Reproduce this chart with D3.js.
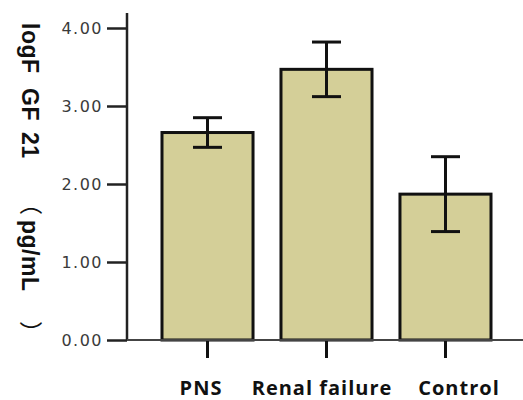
<!DOCTYPE html>
<html>
<head>
<meta charset="utf-8">
<script src="https://cdn.jsdelivr.net/npm/d3@7"></script>
<style>
  html, body { margin: 0; padding: 0; background: #fff; }
  svg { display: block; }
</style>
</head>
<body>
<svg id="chart" width="523" height="400"></svg>
<script>
// Group names, means and error (SD) for log FGF21
const categories = ["PNS", "Renal failure", "Control"];
const means = [2.66, 3.47, 1.87];
const errors = [0.19, 0.35, 0.48];
const yTicks = [0, 1, 2, 3, 4];
const yTitleParts = ["logF", "GF", "21", "（", "pg/mL", "）"];

const svg = d3.select("#chart");
const x0 = 127, x1 = 523, yBase = 340, yTop = 28;

const x = d3.scaleBand().domain(categories).range([138.2, 514.8]).paddingInner(0.235).paddingOuter(0.2);
const y = d3.scaleLinear().domain([0, 4]).range([yBase, yTop]);

const data = categories.map((c, i) => ({ c, m: means[i], e: errors[i] }));

// Bars
svg.selectAll("rect.bar").data(data).join("rect")
  .attr("class", "bar")
  .attr("x", d => x(d.c))
  .attr("width", x.bandwidth())
  .attr("y", d => y(d.m))
  .attr("height", d => y(0) - y(d.m))
  .attr("fill", "#d4cf98")
  .attr("stroke", "#111")
  .attr("stroke-width", 3);

// Error bars
const cap = 14.5;
const eb = svg.append("g").attr("stroke", "#111").attr("stroke-width", 3);
data.forEach(d => {
  const cx = x(d.c) + x.bandwidth() / 2;
  eb.append("line").attr("x1", cx).attr("x2", cx).attr("y1", y(d.m + d.e)).attr("y2", y(d.m - d.e));
  eb.append("line").attr("x1", cx - cap).attr("x2", cx + cap).attr("y1", y(d.m + d.e)).attr("y2", y(d.m + d.e));
  eb.append("line").attr("x1", cx - cap).attr("x2", cx + cap).attr("y1", y(d.m - d.e)).attr("y2", y(d.m - d.e));
});

// Y axis
const yAxis = d3.axisLeft(y).tickValues(yTicks).tickFormat(d3.format(".2f")).tickSize(20).tickPadding(4);
const gy = svg.append("g").attr("transform", `translate(${x0},0)`).call(yAxis);
gy.select(".domain").remove();
gy.selectAll(".tick line").attr("stroke", "#222").attr("stroke-width", 2.5);
gy.selectAll(".tick text")
  .attr("fill", "#3a3a3a")
  .attr("font-family", "'DejaVu Sans', sans-serif")
  .attr("font-size", 16)
  .attr("letter-spacing", 1.5);
svg.append("line").attr("x1", x0).attr("x2", x0).attr("y1", 13).attr("y2", yBase + 1)
  .attr("stroke", "#222").attr("stroke-width", 2.5);

// X axis
const labelShift = { "PNS": -7, "Renal failure": -5, "Control": 13 };
const xAxis = d3.axisBottom(x).tickSize(18).tickPadding(23);
const gx = svg.append("g").attr("transform", `translate(0,${yBase})`).call(xAxis);
gx.select(".domain").remove();
gx.selectAll(".tick line").attr("stroke", "#111").attr("stroke-width", 3);
gx.selectAll(".tick text")
  .attr("dx", d => labelShift[d] + 0.5)
  .attr("fill", "#111")
  .attr("font-family", "'Open Sans', sans-serif")
  .attr("font-weight", 700)
  .attr("font-size", 20)
  .attr("letter-spacing", 1);
svg.append("line").attr("x1", x0).attr("x2", x1).attr("y1", yBase).attr("y2", yBase)
  .attr("stroke", "#444").attr("stroke-width", 2);

// Y axis title, rotated to read top to bottom
const titleAt = [23, 88, 132, 192, 220, 321];
const title = svg.append("text")
  .attr("transform", `translate(22,0) rotate(90)`)
  .attr("font-family", "'Liberation Sans', 'Noto Sans CJK SC', sans-serif")
  .attr("font-weight", 700)
  .attr("font-size", 23)
  .attr("fill", "#111");
yTitleParts.forEach((p, i) => {
  const ts = title.append("tspan").attr("x", titleAt[i]).attr("y", 0).text(p);
  if (p === "（" || p === "）") ts.attr("font-family", "'Noto Sans CJK SC', sans-serif").attr("font-weight", 400);
  else ts.attr("letter-spacing", 0.5);
});
</script>
</body>
</html>
